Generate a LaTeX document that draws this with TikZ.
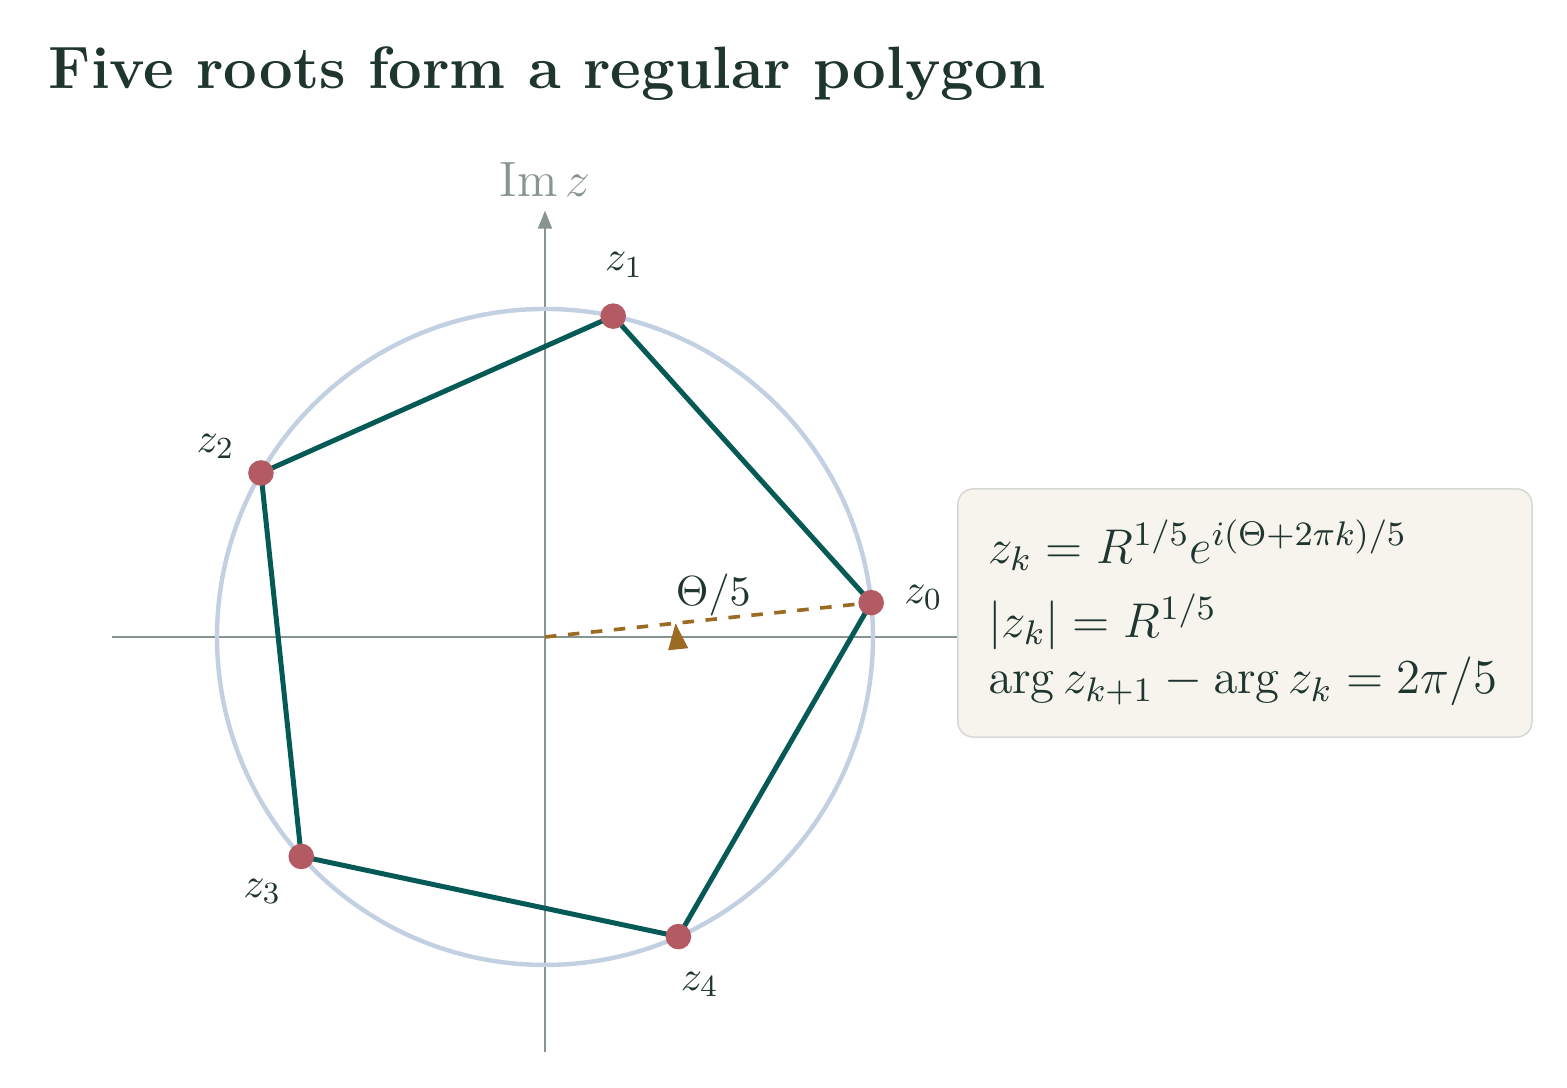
\RequirePackage{fix-cm}
\documentclass[tikz,border=0pt]{standalone}
\usepackage{amsmath,amssymb}
\usetikzlibrary{arrows.meta}

\definecolor{ink}{HTML}{1F3530}
\definecolor{axisgray}{HTML}{879490}
\definecolor{circblue}{HTML}{C2D0E2}
\definecolor{polyteal}{HTML}{065A56}
\definecolor{rootred}{HTML}{B35A63}
\definecolor{rayochre}{HTML}{9C6B23}
\definecolor{boxfill}{HTML}{F7F4EE}
\definecolor{boxline}{HTML}{D6D9D4}

\begin{document}
\begin{tikzpicture}[
  axis/.style={draw=axisgray, line width=0.55pt},
  circ/.style={draw=circblue, line width=1.15pt},
  side/.style={draw=polyteal, line width=1.3pt, line join=round},
  ray/.style={draw=rayochre, line width=0.95pt, dashed},
  root/.style={circle, fill=rootred, inner sep=0pt, minimum size=0.234cm},
  lbl/.style={text=ink, font=\fontsize{10.95}{13}\selectfont},
  infobox/.style={draw=boxline, fill=boxfill, line width=0.4pt, rounded corners=4pt,
    align=left, text width=133.6pt, inner xsep=7.9pt, minimum width=5.251cm,
    minimum height=2.27cm, text=ink, font=\fontsize{12.7}{14.65}\selectfont}
]
  \useasboundingbox (-4.985,-4.125) rectangle (9.348,5.826);
  \node[anchor=base west, inner sep=0pt, text=ink,
        font=\fontsize{15.55}{18}\selectfont\bfseries] (title) at (-4.546,5.02)
        {Five roots form a regular polygon};

  % axes
  \coordinate (o) at (0,0);
  \draw[axis] (-3.96,0) -- (3.95,0);
  \draw[axis, -{Triangle[length=4.7pt,width=3.6pt]}] (0,-3.8) -- (0,3.9);
  \node[text=axisgray, font=\fontsize{12.9}{15}\selectfont] (imz) at (0,4.18) {$\operatorname{Im} z$};

  % circle and roots
  \draw[circ] (o) circle (3);
  \foreach \k in {0,...,4}
    \coordinate (z\k) at ({6+72*\k}:3);
  \draw[side] (z0) -- (z1) -- (z2) -- (z3) -- (z4) -- cycle;
  \draw[ray] (o) -- (z0);
  \draw[draw=rayochre, line width=0.9pt, -{Triangle[length=6.8pt,width=5pt]}]
    (1.2,0) arc (0:6:1.2);
  \foreach \k in {0,...,4} {
    \node[root] (p\k) at (z\k) {};
    \node[lbl] (l\k) at ({6+72*\k}:3.48) {$z_{\k}$};
  }
  \node[lbl] (theta) at (1.54,0.38) {$\Theta/5$};

  % formulas
  \node[infobox] (formulas) at (6.4025,0.2195)
    {$z_k = R^{1/5} e^{i(\Theta+2\pi k)/5}$\\[4.65pt]
     $|z_k| = R^{1/5}$\\
     $\arg z_{k+1} - \arg z_k = 2\pi/5$};
\end{tikzpicture}
\end{document}
